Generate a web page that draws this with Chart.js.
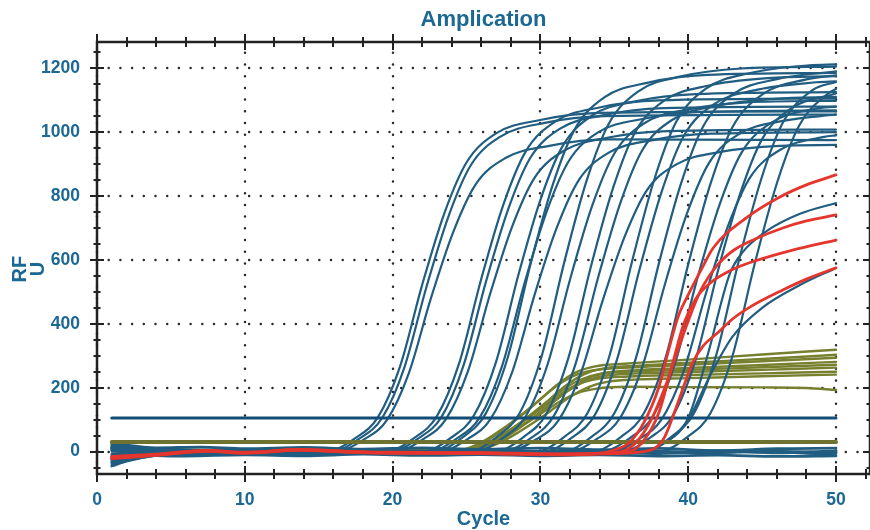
<!DOCTYPE html>
<html>
<head>
<meta charset="utf-8">
<title>Amplication</title>
<script src="https://cdn.jsdelivr.net/npm/chart.js@4.4.1/dist/chart.umd.min.js"></script>
<style>
  html, body { margin: 0; padding: 0; background: #fff; }
</style>
</head>
<body>
<canvas id="ampChart" width="870" height="530"></canvas>
<script>
// Ejes
const xTicks = [0, 10, 20, 30, 40, 50];
const yTicks = [0, 200, 400, 600, 800, 1000, 1200];

// Umbrales
const blueThreshold = [[1, 105], [50, 105]];
const oliveThreshold = [[1, 30], [50, 30]];

// Curvas azules que amplifican: [ciclo, RFU]
const blueRuns = [
  [[1,-38],[4,-8],[15.5,0],[17.5,43],[19,107],[20.5,266],[22,522],[23.5,746],[25,905],[27,996],[30,1038],[34,1060],[50,1065]],
  [[1,22],[4,6],[15.8,0],[17.8,42],[19.3,106],[20.8,264],[22.3,517],[23.8,739],[25.3,897],[27.3,986],[30.3,1029],[34.3,1050],[50,1055]],
  [[1,-15],[4,-4],[16.1,0],[18.1,39],[19.6,98],[21.1,246],[22.6,481],[24.1,687],[25.6,835],[27.6,918],[30.6,957],[34.6,977],[50,975]],
  [[1,8],[4,3],[19.5,0],[21.5,44],[23,111],[24.5,276],[26,541],[27.5,774],[29,939],[31,1033],[34,1077],[38,1099],[50,1105]],
  [[1,-28],[4,-6],[19.8,0],[21.8,43],[23.3,108],[24.8,270],[26.3,529],[27.8,756],[29.3,918],[31.3,1010],[34.3,1053],[38.3,1075],[50,1080]],
  [[1,15],[4,5],[20.1,0],[22.1,40],[23.6,101],[25.1,252],[26.6,494],[28.1,706],[29.6,857],[31.6,942],[34.6,983],[38.6,1003],[50,1008]],
  [[1,-5],[4,-2],[22,0],[24,45],[25.5,113],[27,281],[28.5,551],[30,788],[31.5,956],[33.5,1052],[36.5,1097],[40.5,1119],[50,1125]],
  [[1,12],[4,4],[22.4,0],[24.4,43],[25.9,107],[27.4,267],[28.9,523],[30.4,748],[31.9,908],[33.9,999],[36.9,1041],[40.9,1063],[50,1068]],
  [[1,-32],[4,-7],[22.8,0],[24.8,47],[26.3,119],[27.8,296],[29.3,581],[30.8,830],[32.3,1007],[34.3,1108],[37.3,1155],[41.3,1179],[50,1185]],
  [[1,20],[4,6],[23.1,0],[25.1,40],[26.6,100],[28.1,250],[29.6,490],[31.1,700],[32.6,850],[34.6,935],[37.6,975],[41.6,995],[50,1000]],
  [[1,-10],[4,-3],[25.1,0],[27.1,48],[28.6,121],[30.1,301],[31.6,590],[33.1,844],[34.6,1024],[36.6,1127],[39.6,1175],[43.6,1199],[50,1205]],
  [[1,5],[4,2],[25.5,0],[27.5,44],[29,110],[30.5,275],[32,538],[33.5,769],[35,933],[37,1027],[40,1071],[44,1093],[50,1098]],
  [[1,-22],[4,-5],[26.9,0],[28.9,47],[30.4,118],[31.9,294],[33.4,576],[34.9,823],[36.4,999],[38.4,1099],[41.4,1146],[45.4,1169],[50,1175]],
  [[1,18],[4,5],[27.4,0],[29.4,44],[30.9,111],[32.4,278],[33.9,544],[35.4,777],[36.9,944],[38.9,1038],[41.9,1082],[45.9,1104],[50,1110]],
  [[1,-42],[4,-9],[27.7,0],[29.7,38],[31.2,96],[32.7,241],[34.2,471],[35.7,673],[37.2,818],[39.2,899],[42.2,938],[46.2,957],[50,960]],
  [[1,10],[4,3],[29.7,0],[31.7,49],[33.2,122],[34.7,304],[36.2,595],[37.7,851],[39.2,1033],[41.2,1136],[44.2,1185],[48.2,1209],[50,1212]],
  [[1,-18],[4,-4],[30.2,0],[32.2,46],[33.7,116],[35.2,291],[36.7,569],[38.2,813],[39.7,988],[41.7,1086],[44.7,1133],[48.7,1156],[50,1159]],
  [[1,24],[4,7],[31.5,0],[33.5,48],[35,120],[36.5,299],[38,586],[39.5,837],[41,1017],[43,1118],[46,1166],[50,1190]],
  [[1,-8],[4,-2],[31.9,0],[33.9,42],[35.4,106],[36.9,266],[38.4,520],[39.9,743],[41.4,903],[43.4,993],[46.4,1035],[50,1055]],
  [[1,3],[4,1],[33.5,0],[35.5,48],[37,120],[38.5,299],[40,586],[41.5,837],[43,1016],[45,1117],[48,1165],[50,1178]],
  [[1,-25],[4,-6],[34.1,0],[36.1,44],[37.6,110],[39.1,275],[40.6,539],[42.1,770],[43.6,935],[45.6,1029],[48.6,1073],[50,1080]],
  [[1,14],[4,4],[34.7,0],[36.7,40],[38.2,101],[39.7,253],[41.2,495],[42.7,707],[44.2,859],[46.2,944],[49.2,985],[50,990]],
  [[1,-12],[4,-3],[35.5,0],[37.5,46],[39,115],[40.5,288],[42,564],[43.5,805],[45,978],[47,1075],[50,1121]],
  [[1,6],[4,2],[36.9,0],[38.9,48],[40.4,121],[41.9,303],[43.4,593],[44.9,847],[46.4,1029],[48.4,1131],[50,1157]],
  [[1,-30],[4,-7],[38,0],[40,48],[41.5,120],[43,300],[44.5,588],[46,840],[47.5,1020],[49.5,1122],[50,1135]],
  [[1,-14],[4,-3],[36.5,0],[38.5,30],[40,105],[41.3,300],[42.8,555],[43.7,625],[45.3,690],[47.6,745],[50,778]],
  [[1,4],[4,1],[36.5,0],[38.5,30],[40,100],[41.5,240],[43,360],[45,450],[47.5,520],[50,575]]
];

// Curvas azules sin amplificación (línea base)
const blueFlat = [
  [[1,-45],[2,-30],[4,-12],[7,-5],[10,2],[14,-4],[18,3],[22,-2],[26,4],[30,-3],[34,2],[38,-6],[42,3],[46,-4],[50,2]],
  [[1,28],[2,20],[4,12],[7,14],[10,9],[14,13],[18,8],[22,12],[26,7],[30,11],[34,6],[38,10],[42,3],[46,9],[50,11]],
  [[1,-24],[3,-12],[6,-14],[10,-10],[14,-13],[18,-8],[22,-12],[26,-9],[30,-13],[34,-10],[38,-14],[42,-11],[46,-15],[50,-13]],
  [[1,10],[3,2],[6,4],[10,0],[14,3],[18,-1],[22,2],[26,-2],[30,1],[34,-2],[38,0],[42,-3],[46,1],[50,-2]],
  [[1,-35],[2.5,-22],[5,-6],[9,-2],[13,1],[17,-3],[21,0],[25,-4],[29,0],[33,-3],[37,2],[41,-4],[45,3],[48,-5],[50,-6]]
];

// Curvas verde oliva
const oliveRuns = [
  [[1,18],[4,6],[12,4],[20,6],[24.7,6],[26.2,30],[27.7,77],[29,124],[30.1,168],[31.2,212],[32.4,248],[33.7,267],[35.7,275],[40,288],[45,304],[50,319]],
  [[1,10],[4,4],[12,2],[20,4],[25.2,5],[26.7,29],[28.2,75],[29.5,121],[30.6,163],[31.7,206],[32.9,241],[34.2,260],[36.2,268],[40,278],[45,290],[50,303]],
  [[1,22],[4,8],[12,5],[20,3],[24.5,5],[26,29],[27.5,73],[28.8,118],[29.9,160],[31,202],[32.2,236],[33.5,254],[35.5,262],[40,272],[45,283],[50,294]],
  [[1,6],[4,3],[12,1],[20,3],[25.5,5],[27,28],[28.5,71],[29.8,115],[30.9,156],[32,196],[33.2,230],[34.5,247],[36.5,255],[40,262],[45,271],[50,281]],
  [[1,14],[4,5],[12,3],[20,5],[25,5],[26.5,28],[28,70],[29.3,113],[30.4,153],[31.5,193],[32.7,225],[34,243],[36,250],[40,256],[45,264],[50,272]],
  [[1,2],[4,2],[12,4],[20,2],[25.3,5],[26.8,27],[28.3,68],[29.6,110],[30.7,149],[31.8,188],[33,220],[34.3,237],[36.3,244],[40,249],[45,256],[50,263]],
  [[1,16],[4,6],[12,3],[20,4],[24.9,5],[26.4,26],[27.9,66],[29.2,106],[30.3,143],[31.4,181],[32.6,212],[33.9,228],[35.9,235],[40,240],[45,245],[50,250]],
  [[1,8],[4,4],[12,2],[20,3],[25.6,5],[27.1,25],[28.6,63],[29.9,102],[31,138],[32.1,174],[33.3,203],[34.6,219],[36.6,226],[40,230],[45,236],[50,241]],
  [[1,12],[4,5],[12,3],[20,4],[24.8,4],[26.3,22],[27.8,57],[29.1,91],[30.2,124],[31.3,156],[32.5,183],[33.8,197],[35.8,203],[40,202],[45,201],[48,199],[50,193]]
];

// Curvas rojas
const redRuns = [
  [[1,-18],[4,-10],[7.5,3],[10,-3],[13.7,6],[17,0],[20,-3],[26,-4],[31,-8],[34,-5],[35,5],[36,28],[37,91],[38,200],[38.5,287],[39.3,420],[40.1,500],[41,580],[41.7,638],[44,734],[46.2,797],[48,835],[50,866]],
  [[1,-22],[4,-12],[7.5,1],[10,-5],[13.7,4],[17,-2],[20,-5],[26,-6],[31,-10],[34,-7],[35.5,0],[36.5,30],[37.5,100],[38.5,210],[39.5,345],[40.8,500],[42,585],[43.1,631],[44.5,665],[46.4,700],[48,722],[50,741]],
  [[1,-15],[4,-8],[7.5,4],[10,-2],[13.7,7],[17,1],[20,-2],[26,-3],[31,-7],[34,-6],[36,0],[37,35],[38,120],[38.8,250],[39.7,400],[40.5,478],[41.5,528],[43,570],[44.2,592],[47,630],[50,662]],
  [[1,-20],[4,-11],[7.5,2],[10,-4],[13.7,5],[17,-1],[20,-4],[26,-5],[31,-9],[34,-7],[37,0],[38.3,37],[39.2,140],[40.3,278],[41,330],[42,372],[43,415],[44.2,453],[46.4,506],[48,540],[50,575]]
];

const TEXT = '#1b6894';
const BLUE = '#215d80';
const BLUE_LINE = '#134c74';
const OLIVE = '#77802f';
const OLIVE_LINE = '#6d7230';
const RED = '#e5352c';
const FRAME = '#222';

function run(data, color, width, order) {
  return { data, borderColor: color, borderWidth: width, order, fill: false, pointRadius: 0 };
}

const datasets = [
  ...redRuns.map(d => run(d, RED, 2.8, 0)),
  run(blueThreshold, BLUE_LINE, 3, 1),
  run(oliveThreshold, OLIVE_LINE, 4, 1),
  ...blueRuns.map(d => run(d, BLUE, 2.2, 2)),
  ...blueFlat.map(d => run(d, BLUE, 2.8, 2)),
  ...oliveRuns.map(d => run(d, OLIVE, 2.4, 3))
];

// Marco, grilla punteada y marcas de los ejes
const frame = {
  id: 'frame',
  beforeDatasetsDraw(chart) {
    const { ctx, chartArea: a, scales: { x, y } } = chart;
    ctx.save();
    ctx.strokeStyle = '#2a2a2a';
    ctx.lineWidth = 2.5;
    ctx.lineCap = 'round';
    ctx.setLineDash([0, 11.7]);
    xTicks.forEach(v => {
      const px = Math.round(x.getPixelForValue(v));
      ctx.beginPath();
      ctx.moveTo(px, a.bottom);
      ctx.lineTo(px, a.top);
      ctx.stroke();
    });
    yTicks.forEach(v => {
      const py = Math.round(y.getPixelForValue(v));
      ctx.beginPath();
      ctx.moveTo(a.left, py);
      ctx.lineTo(a.right, py);
      ctx.stroke();
    });
    ctx.restore();
  },
  afterDraw(chart) {
    const { ctx, chartArea: a, scales: { x, y } } = chart;
    ctx.save();
    ctx.strokeStyle = FRAME;
    ctx.lineWidth = 2.5;
    ctx.strokeRect(a.left, a.top, a.right - a.left, a.bottom - a.top);
    ctx.lineWidth = 2;
    for (let v = 0; v <= 52; v += 2) {
      const px = Math.round(x.getPixelForValue(v));
      const h = v % 10 === 0 ? 8 : 5;
      ctx.beginPath();
      ctx.moveTo(px, a.bottom - h); ctx.lineTo(px, a.bottom + h);
      ctx.moveTo(px, a.top - h); ctx.lineTo(px, a.top + h);
      ctx.stroke();
    }
    for (let v = -50; v <= 1250; v += 50) {
      const py = Math.round(y.getPixelForValue(v));
      const w = v % 200 === 0 ? 7 : 3.5;
      ctx.beginPath();
      ctx.moveTo(a.left - w, py); ctx.lineTo(a.left + w, py);
      ctx.moveTo(a.right - w, py); ctx.lineTo(a.right + w, py);
      ctx.stroke();
    }
    ctx.restore();
  }
};

new Chart(document.getElementById('ampChart'), {
  type: 'line',
  data: { datasets },
  options: {
    responsive: false,
    animation: false,
    layout: { padding: 0 },
    elements: {
      line: { cubicInterpolationMode: 'monotone', borderJoinStyle: 'round', borderCapStyle: 'round' },
      point: { radius: 0 }
    },
    plugins: {
      legend: { display: false },
      tooltip: { enabled: false },
      title: {
        display: true,
        fullSize: false,
        text: 'Amplication',
        color: TEXT,
        font: { family: 'Liberation Sans', size: 22, weight: 'bold', lineHeight: 1.2 },
        padding: { top: 7, bottom: 8.6 }
      }
    },
    scales: {
      x: {
        type: 'linear',
        min: 0,
        max: 52.3,
        afterFit: s => { s.height = 56; },
        afterBuildTicks: s => { s.ticks = xTicks.map(v => ({ value: v })); },
        grid: { display: false, drawTicks: false },
        border: { display: false },
        ticks: {
          color: TEXT,
          padding: 16,
          maxRotation: 0,
          callback: v => String(v),
          font: { family: 'Liberation Sans', size: 17.5, weight: 'bold' }
        },
        title: {
          display: true,
          text: 'Cycle',
          color: TEXT,
          padding: { top: 0, bottom: -1 },
          font: { family: 'Liberation Sans', size: 20, weight: 'bold', lineHeight: 1.2 }
        }
      },
      y: {
        type: 'linear',
        min: -70,
        max: 1282,
        afterFit: s => { s.width = 97; },
        afterBuildTicks: s => { s.ticks = yTicks.map(v => ({ value: v })); },
        grid: { display: false, drawTicks: false },
        border: { display: false },
        ticks: {
          color: TEXT,
          padding: 17,
          callback: v => String(v),
          font: { family: 'Liberation Sans', size: 17.5, weight: 'bold' }
        },
        title: {
          display: true,
          text: ['RF    ', 'U    '],
          color: TEXT,
          padding: { top: 11, bottom: 0 },
          font: { family: 'Liberation Sans', size: 20, weight: 'bold', lineHeight: 0.9 }
        }
      }
    }
  },
  plugins: [frame]
});
</script>
</body>
</html>
